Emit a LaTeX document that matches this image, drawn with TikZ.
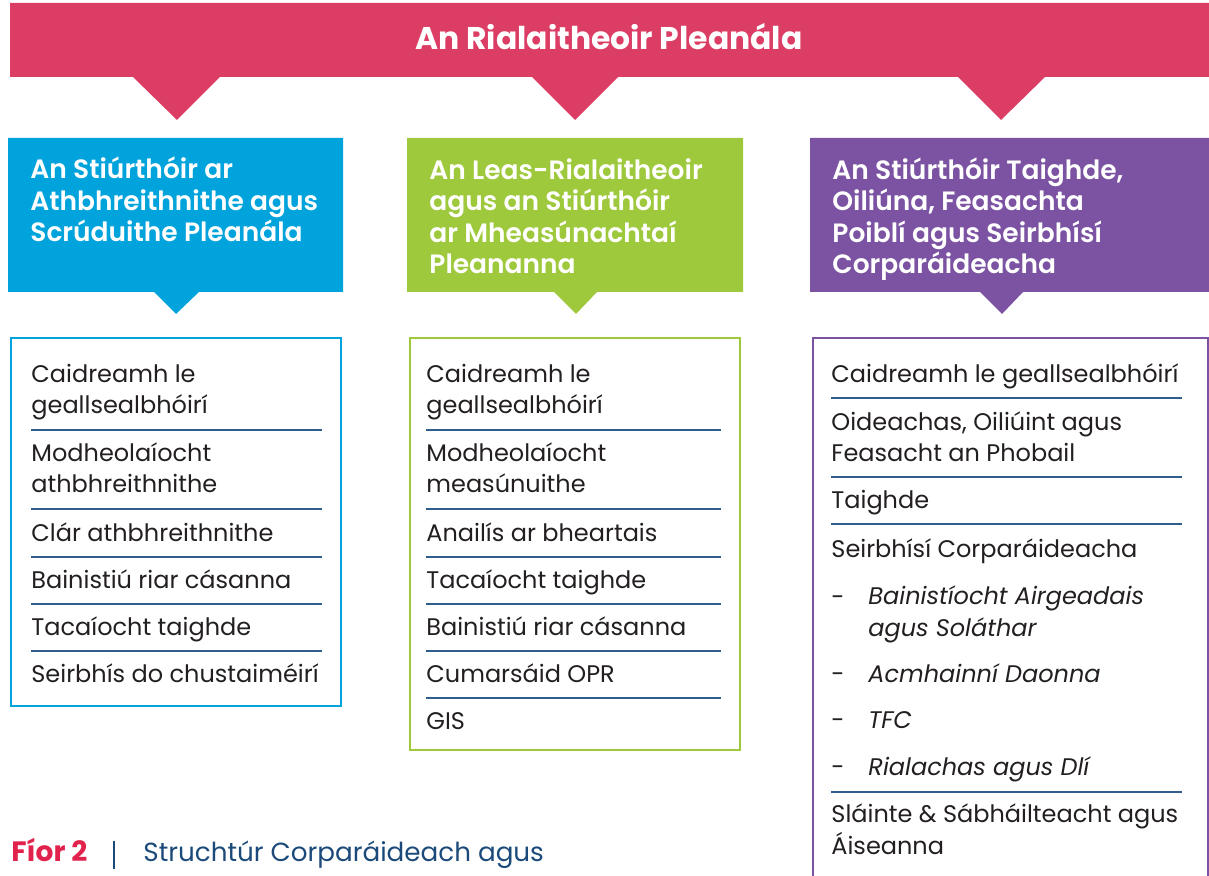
\documentclass[tikz,border=0pt]{standalone}
\usepackage{fontspec}
\setmainfont{Poppins}
\newfontfamily\halbfett{Poppins SemiBold}
\usetikzlibrary{positioning}
\definecolor{titelrot}{HTML}{DB3D65}
\definecolor{kopfblau}{HTML}{00A3DB}
\definecolor{kopfgruen}{HTML}{9FC93C}
\definecolor{kopflila}{HTML}{7B53A2}
\definecolor{linienblau}{HTML}{2F5D8C}
\definecolor{textgrau}{HTML}{231F20}
\definecolor{fiorrot}{HTML}{E0224C}
\definecolor{fiorblau}{HTML}{1B4A7A}

\begin{document}
\begin{tikzpicture}[x=0.5pt, y=-0.5pt,
    kopf/.style={anchor=base west, align=left, text=white, inner sep=0pt,
      font=\fontsize{13.25}{15.75}\halbfett},
    eintrag/.style={anchor=base west, align=left, text=textgrau, inner sep=0pt,
      font=\fontsize{12}{15.75}\selectfont},
    unterpunkt/.style={eintrag, font=\fontsize{12}{15.75}\selectfont\itshape},
    trenn/.style={draw=linienblau, line width=0.75pt}]
    \useasboundingbox (0,0) rectangle (1209,876);

    % Titelbalken mit drei Spitzen
    \fill[titelrot] (10,3) -- (1209,3) -- (1209,77) -- (1045,77) -- (1001,120) -- (958,77)
        -- (618,77) -- (575,120) -- (532,77) -- (220,77) -- (177,120) -- (133,77) -- (10,77) -- cycle;
    \node[anchor=base, inner sep=0pt, text=white, font=\fontsize{15.7}{18}\selectfont\bfseries] (titel) at (609,50) {An Rialaitheoir Pleanála};

    % Kopfboxen (Ankerpunkt = Grundlinie der letzten Zeile)
    \fill[kopfblau] (8,138) -- (343,138) -- (343,292) -- (199,292) -- (176,314) -- (154,292) -- (8,292) -- cycle;
    \fill[kopfgruen] (407,138) -- (743,138) -- (743,292) -- (597,292) -- (576,314) -- (554,292) -- (407,292) -- cycle;
    \fill[kopflila] (810,138) -- (1209,138) -- (1209,292) -- (1023,292) -- (1002,314) -- (980,292) -- (810,292) -- cycle;
    \node[kopf] (kopfA) at (30,242) {An Stiúrthóir ar\\Athbhreithnithe agus\\Scrúduithe Pleanála};
    \node[kopf] (kopfB) at (429,274) {An Leas-Rialaitheoir\\agus an Stiúrthóir\\ar Mheasúnachtaí\\Pleananna};
    \node[kopf] (kopfC) at (832,274) {An Stiúrthóir Taighde,\\Oiliúna, Feasachta\\Poiblí agus Seirbhísí\\Corparáideacha};

    % Liste links
    \draw[kopfblau, line width=0.75pt] (11,338) rectangle (341,706);
    \node[eintrag] (a1) at (31,414) {Caidreamh le\\geallsealbhóirí};
    \node[eintrag] (a2) at (31,493) {Modheolaíocht\\athbhreithnithe};
    \node[eintrag] (a3) at (31,541) {Clár athbhreithnithe};
    \node[eintrag] (a4) at (31,588) {Bainistiú riar cásanna};
    \node[eintrag] (a5) at (31,635) {Tacaíocht taighde};
    \node[eintrag] (a6) at (31,682) {Seirbhís do chustaiméirí};
    \foreach \y in {430,509,557,604,651}
        \draw[trenn] (31,\y) -- (322,\y);

    % Liste Mitte
    \draw[kopfgruen, line width=0.75pt] (410,338) rectangle (740,750);
    \node[eintrag] (b1) at (426,414) {Caidreamh le\\geallsealbhóirí};
    \node[eintrag] (b2) at (426,493) {Modheolaíocht\\measúnuithe};
    \node[eintrag] (b3) at (426,541) {Anailís ar bheartais};
    \node[eintrag] (b4) at (426,588) {Tacaíocht taighde};
    \node[eintrag] (b5) at (426,635) {Bainistiú riar cásanna};
    \node[eintrag] (b6) at (426,682) {Cumarsáid OPR};
    \node[eintrag] (b7) at (426,729) {GIS};
    \foreach \y in {430,509,557,604,651,698}
        \draw[trenn] (426,\y) -- (721,\y);

    % Liste rechts (unten offen)
    \draw[kopflila, line width=0.75pt] (813,880) -- (813,338) -- (1208,338) -- (1208,880);
    \node[eintrag] (c1) at (831,383) {Caidreamh le geallsealbhóirí};
    \node[eintrag] (c2) at (831,462) {Oideachas, Oiliúint agus\\Feasacht an Phobail};
    \node[eintrag] (c3) at (831,509) {Taighde};
    \node[eintrag] (c4) at (831,557) {Seirbhísí Corparáideacha};
    \node[eintrag] (c5) at (831,605) {-};
    \node[unterpunkt] (c5t) at (868,636) {Bainistíocht Airgeadais\\agus Soláthar};
    \node[eintrag] (c6) at (831,682) {-};
    \node[unterpunkt] (c6t) at (868,682) {Acmhainní Daonna};
    \node[eintrag] (c7) at (831,728) {-};
    \node[unterpunkt] (c7t) at (868,728) {TFC};
    \node[eintrag] (c8) at (831,775) {-};
    \node[unterpunkt] (c8t) at (868,775) {Rialachas agus Dlí};
    \node[eintrag] (c9) at (831,854) {Sláinte \& Sábháilteacht agus\\Áiseanna};
    \foreach \y in {398,477,524,792}
        \draw[trenn] (831,\y) -- (1182,\y);

    % Bildunterschrift
    \node[anchor=base west, inner sep=0pt, text=fiorrot, font=\fontsize{14}{16}\selectfont\bfseries] (fior) at (11,861) {Fíor 2};
    \draw[fiorblau, line width=1.2pt] (114,841) -- (114,869);
    \node[anchor=base west, inner sep=0pt, text=fiorblau, font=\fontsize{13.1}{16}\selectfont] (unterschrift) at (143,861) {Struchtúr Corparáideach agus};
\end{tikzpicture}
\end{document}
